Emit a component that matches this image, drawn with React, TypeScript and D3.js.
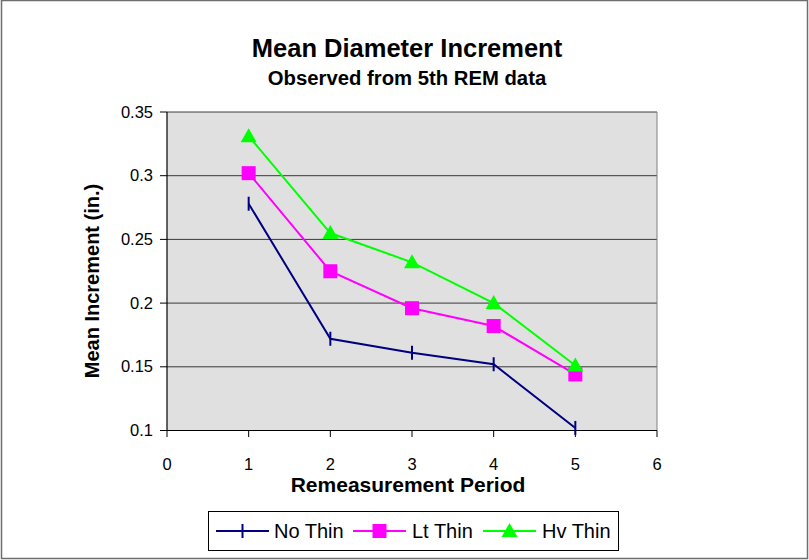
import React from "react";
import * as d3 from "d3";

const periods = [1, 2, 3, 4, 5];
const noThin = [0.278, 0.172, 0.161, 0.152, 0.102];
const ltThin = [0.302, 0.225, 0.196, 0.182, 0.144];
const hvThin = [0.331, 0.255, 0.232, 0.2, 0.151];
const xTicks = [0, 1, 2, 3, 4, 5, 6];
const yTicks = [0.1, 0.15, 0.2, 0.25, 0.3, 0.35];
const seriesNames = ["No Thin", "Lt Thin", "Hv Thin"];
const seriesColors = ["#000080", "#FF00FF", "#00FF00"];

const W = 809;
const H = 560;
const FONT = "'Liberation Sans', Arial, sans-serif";

function Marker({ kind, x, y, color }: { kind: number; x: number; y: number; color: string }) {
  if (kind === 0) {
    return <line x1={x} x2={x} y1={y - 7} y2={y + 7} stroke={color} strokeWidth={2} />;
  }
  if (kind === 1) {
    return <rect x={x - 7} y={y - 7} width={14} height={14} fill={color} />;
  }
  return <path d={`M${x},${y - 8}L${x + 8},${y + 6}L${x - 8},${y + 6}Z`} fill={color} />;
}

export default function App() {
  const x = d3.scaleLinear().domain([0, 6]).range([167, 657]);
  const y = d3.scaleLinear().domain([0.1, 0.35]).range([430.5, 112]);
  const series = [noThin, ltThin, hvThin];
  const line = d3
    .line<number>()
    .x((_, i) => x(periods[i]))
    .y((d) => y(d));

  const legendItems = [
    { lx: 216, tx: 274 },
    { lx: 353, tx: 412 },
    { lx: 483, tx: 542 },
  ];

  return (
    <svg
      width={W}
      height={H}
      style={{ position: "absolute", left: 0, top: 0, display: "block", background: "#fff" }}
      fontFamily={FONT}
    >
      <rect x={1.5} y={0.5} width={806} height={558} fill="#fff" stroke="#6e6e6e" strokeWidth={1.5} />
      <text x={407} y={57} textAnchor="middle" fontSize={25.5} fontWeight="bold">
        Mean Diameter Increment
      </text>
      <text x={407} y={85} textAnchor="middle" fontSize={20.3} fontWeight="bold">
        Observed from 5th REM data
      </text>

      <rect x={167} y={112} width={490} height={318.5} fill="#E0E0E0" />
      {yTicks.map((t) => (
        <line key={"g" + t} x1={167} x2={657} y1={y(t)} y2={y(t)} stroke="#000" strokeWidth={1} opacity={t === 0.1 ? 0 : 0.75} />
      ))}
      <line x1={657} x2={657} y1={112} y2={430.5} stroke="#808080" strokeWidth={1} />
      <line x1={167} x2={167} y1={112} y2={430.5} stroke="#000" strokeWidth={1.2} />
      <line x1={167} x2={657} y1={430.5} y2={430.5} stroke="#000" strokeWidth={1.2} />
      {yTicks.map((t) => (
        <g key={"yt" + t}>
          <line x1={160} x2={167} y1={y(t)} y2={y(t)} stroke="#000" strokeWidth={1} />
          <text x={153} y={y(t) + 5.5} textAnchor="end" fontSize={16.5}>
            {String(t)}
          </text>
        </g>
      ))}
      {xTicks.map((t) => (
        <g key={"xt" + t}>
          <line x1={x(t)} x2={x(t)} y1={430.5} y2={437} stroke="#000" strokeWidth={1} />
          <text x={x(t)} y={470} textAnchor="middle" fontSize={16.5}>
            {t}
          </text>
        </g>
      ))}
      <text x={408} y={492} textAnchor="middle" fontSize={21} fontWeight="bold">
        Remeasurement Period
      </text>
      <text
        transform={`translate(99,281) rotate(-90)`}
        textAnchor="middle"
        fontSize={20}
        fontWeight="bold"
      >
        Mean Increment (in.)
      </text>

      {series.map((s, si) => (
        <g key={"s" + si}>
          <path d={line(s) || ""} fill="none" stroke={seriesColors[si]} strokeWidth={2} />
          {s.map((v, i) => (
            <Marker key={i} kind={si} x={x(periods[i])} y={y(v)} color={seriesColors[si]} />
          ))}
        </g>
      ))}

      <rect x={208.5} y={511.5} width={410} height={39} fill="#fff" stroke="#000" strokeWidth={1} />
      {legendItems.map((it, i) => (
        <g key={"l" + i}>
          <line x1={it.lx} x2={it.lx + 53} y1={531} y2={531} stroke={seriesColors[i]} strokeWidth={2} />
          <Marker kind={i} x={it.lx + 26.5} y={531} color={seriesColors[i]} />
          <text x={it.tx} y={538} fontSize={20}>
            {seriesNames[i]}
          </text>
        </g>
      ))}
    </svg>
  );
}
